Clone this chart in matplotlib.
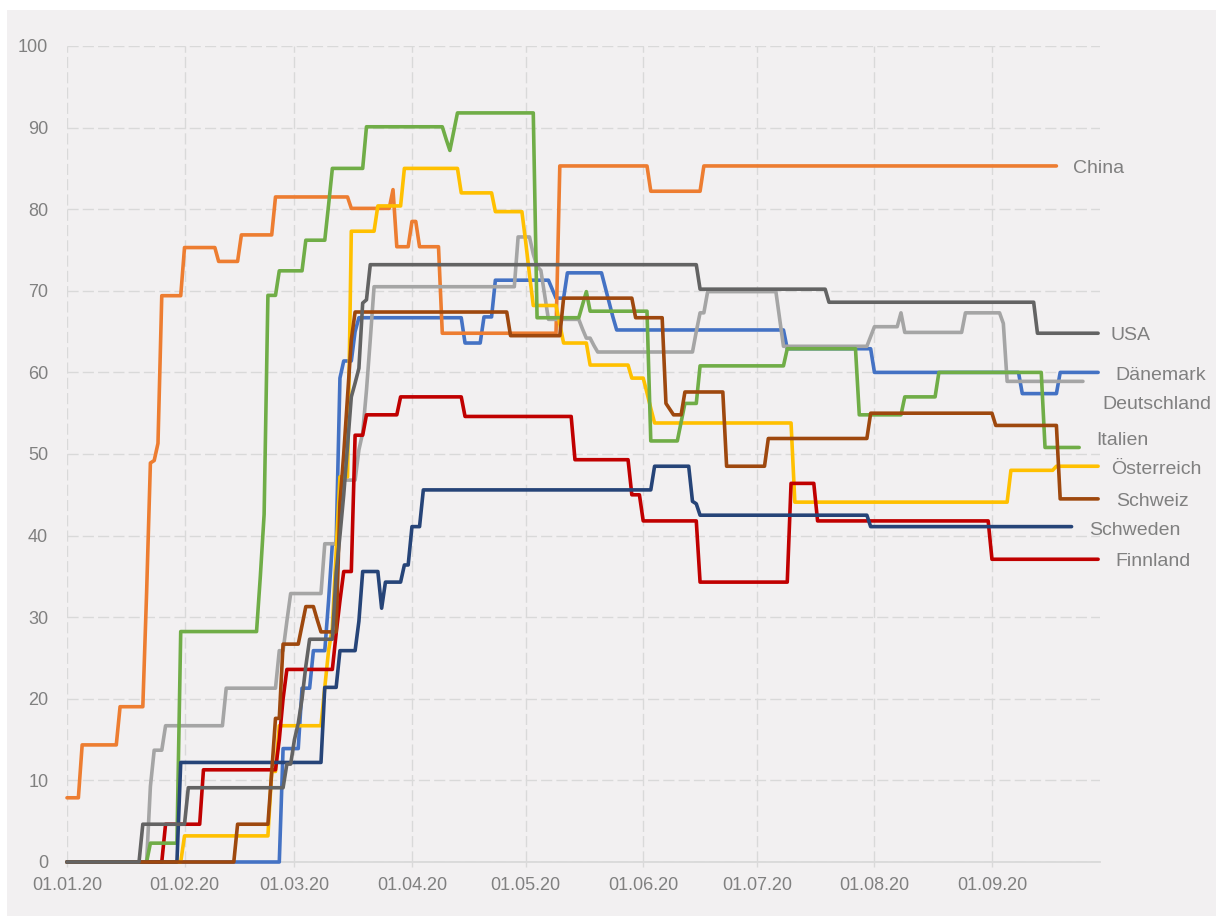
import numpy as np
import pandas as pd
import matplotlib
matplotlib.use("Agg")
import matplotlib.pyplot as plt
from matplotlib.patches import Rectangle

plt.rcParams['font.family'] = ['Liberation Sans', 'DejaVu Sans']

# ---- data: days since 01.01.2020 at which the index changes, and the new value ----
month_days = [0, 31, 60, 91, 121, 152, 182, 213, 244]
month_labels = ['01.01.20', '01.02.20', '01.03.20', '01.04.20', '01.05.20',
                '01.06.20', '01.07.20', '01.08.20', '01.09.20']

denmark_day = [0, 57, 62, 65, 69, 70, 72, 73, 76, 77, 105, 110, 113, 128, 129, 132,
               142, 143, 144, 145, 190, 213, 252, 262, 272]
denmark_val = [0, 13.9, 21.3, 25.9, 32.0, 39.0, 59.3, 61.4, 65.0, 66.7, 63.6, 66.8, 71.3,
               70.2, 69.1, 72.2, 70.4, 68.6, 66.8, 65.2, 62.9, 60.0, 57.4, 60.0, 60.0]

china_day = [0, 4, 14, 21, 22, 23, 24, 25, 31, 40, 46, 55, 75, 86, 87, 91, 93, 99,
             130, 154, 168, 261]
china_val = [7.87, 14.35, 19.03, 33.0, 48.9, 49.2, 51.3, 69.4, 75.3, 73.6, 76.85, 81.5,
             80.1, 82.4, 75.4, 78.5, 75.4, 64.8, 85.3, 82.2, 85.3, 85.3]

germany_day = [0, 22, 23, 26, 42, 56, 58, 59, 68, 72, 73, 77, 78, 79, 80, 81, 119, 123,
               124, 125, 126, 127, 136, 137, 139, 140, 166, 167, 169, 188, 189, 212, 213,
               220, 221, 237, 247, 248, 268]
germany_val = [0, 9.26, 13.7, 16.7, 21.3, 25.9, 29.5, 32.9, 39.0, 43.0, 46.8, 50.5, 52.6,
               57.8, 64.0, 70.5, 76.6, 74.5, 73.0, 72.5, 69.5, 66.5, 65.3, 64.2, 63.3,
               62.5, 65.0, 67.3, 69.9, 66.5, 63.2, 64.4, 65.6, 67.3, 64.9, 67.3, 66.0,
               58.9, 58.9]

austria_day = [0, 31, 54, 56, 68, 69, 70, 71, 72, 75, 82, 89, 104, 113, 121, 122, 123,
               130, 131, 138, 149, 153, 154, 155, 192, 249, 261, 272]
austria_val = [0, 3.2, 11.1, 16.7, 21.4, 25.9, 28.7, 38.0, 47.2, 77.3, 80.4, 85.0, 82.0,
               79.7, 76.0, 72.0, 68.2, 65.9, 63.6, 60.9, 59.3, 57.5, 55.6, 53.8, 44.1,
               48.0, 48.5, 48.5]

finland_day = [0, 26, 36, 56, 57, 58, 71, 72, 73, 76, 79, 88, 105, 134, 149, 152, 167,
               191, 198, 244, 272]
finland_val = [0, 4.63, 11.3, 15.0, 20.0, 23.6, 28.0, 32.0, 35.6, 52.3, 54.8, 57.0, 54.6,
               49.3, 45.0, 41.8, 34.3, 46.4, 41.8, 37.1, 37.1]

italy_day = [0, 22, 30, 51, 52, 53, 56, 63, 69, 70, 79, 100, 101, 102, 103, 124, 136,
             137, 138, 154, 162, 163, 167, 190, 209, 221, 230, 258, 267]
italy_val = [0, 2.31, 28.24, 35.0, 42.6, 69.44, 72.45, 76.2, 80.5, 85.0, 90.1, 88.6, 87.2,
             89.5, 91.8, 66.7, 68.3, 69.9, 67.5, 51.6, 53.9, 56.2, 60.8, 62.9, 54.8, 57.0,
             60.0, 50.8, 50.8]

sweden_day = [0, 30, 68, 72, 77, 78, 83, 84, 89, 91, 94, 155, 165, 166, 167, 212, 265]
sweden_val = [0, 12.2, 21.4, 25.9, 29.5, 35.6, 31.1, 34.3, 36.4, 41.1, 45.6, 48.5, 44.2,
              43.9, 42.5, 41.1, 41.1]

swiss_day = [0, 45, 54, 55, 57, 62, 63, 66, 67, 72, 73, 74, 75, 76, 117, 131, 150, 158,
             159, 160, 163, 174, 185, 212, 245, 262, 272]
swiss_val = [0, 4.63, 11.0, 17.6, 26.7, 29.0, 31.3, 29.7, 28.2, 44.0, 50.0, 57.0, 64.0,
             67.4, 64.5, 69.1, 66.7, 56.2, 55.5, 54.8, 57.6, 48.5, 51.9, 55.0, 53.5, 44.5,
             44.5]

usa_day = [0, 20, 32, 58, 60, 61, 62, 63, 64, 71, 72, 73, 74, 75, 76, 77, 78, 79, 80,
           167, 201, 256, 272]
usa_val = [0, 4.63, 9.1, 12.0, 15.0, 17.0, 20.0, 24.0, 27.3, 35.4, 40.0, 45.0, 51.0, 57.0,
           58.7, 60.5, 68.5, 68.9, 73.2, 70.2, 68.6, 64.8, 64.8]

series = [
    ('Dänemark', denmark_day, denmark_val, '#4472C4'),
    ('China', china_day, china_val, '#ED7D31'),
    ('Deutschland', germany_day, germany_val, '#A5A5A5'),
    ('Österreich', austria_day, austria_val, '#FFC000'),
    ('Finnland', finland_day, finland_val, '#C00000'),
    ('Italien', italy_day, italy_val, '#70AD47'),
    ('Schweden', sweden_day, sweden_val, '#264478'),
    ('Schweiz', swiss_day, swiss_val, '#9E480E'),
    ('USA', usa_day, usa_val, '#636363'),
]

# label offsets (pixels) from the last point of each line
label_offset = {
    'China': (17, -3), 'USA': (12, -2), 'Dänemark': (17, -3), 'Deutschland': (19, -23),
    'Italien': (17, 7), 'Österreich': (13, -3), 'Schweiz': (18, -3),
    'Schweden': (18, -4), 'Finnland': (17, -2),
}

W, H = 1222, 916
fig = plt.figure(figsize=(W / 100, H / 100), dpi=100, facecolor='white')
fig.patches.append(Rectangle((7 / W, 0), (1216 - 7) / W, 1 - 10 / H,
                             transform=fig.transFigure, facecolor='#F2F0F1',
                             edgecolor='none', zorder=-10))
ax = fig.add_axes([67 / W, 1 - 862 / H, (1100 - 67) / W, (862 - 46) / H])
ax.set_facecolor('none')
ax.set_zorder(1)

grid_color = '#D9D9D9'
for name, d, v, c in series:
    s = pd.Series(v, index=d).reindex(range(d[0], d[-1] + 1)).ffill()
    ax.plot(s.index, s.values, color=c, lw=2.6, solid_capstyle='round',
            solid_joinstyle='round', zorder=3, clip_on=False)
    ax.annotate(name, xy=(s.index[-1], s.values[-1]), xytext=label_offset[name],
                textcoords='offset pixels', ha='left', va='center', fontsize=14,
                color='#808080', annotation_clip=False)

ax.set_xlim(0, 272.5)
ax.set_ylim(0, 100)
ax.set_xticks(month_days)
ax.set_xticklabels(month_labels)
ax.set_yticks(np.arange(0, 101, 10))

ax.grid(True, color=grid_color, lw=1.0, linestyle=(0, (8, 3)), zorder=1)
ax.set_axisbelow(True)
for sp in ['left', 'right', 'top']:
    ax.spines[sp].set_visible(False)
ax.spines['bottom'].set_color(grid_color)
ax.spines['bottom'].set_linewidth(1.3)

ax.tick_params(axis='x', length=3.6, width=1.0, color=grid_color, direction='out',
               labelsize=13, labelcolor='#808080', pad=7)
ax.tick_params(axis='y', length=0, labelsize=13, labelcolor='#808080', pad=13.5)

fig.savefig('out.png', dpi=100, facecolor='white')
